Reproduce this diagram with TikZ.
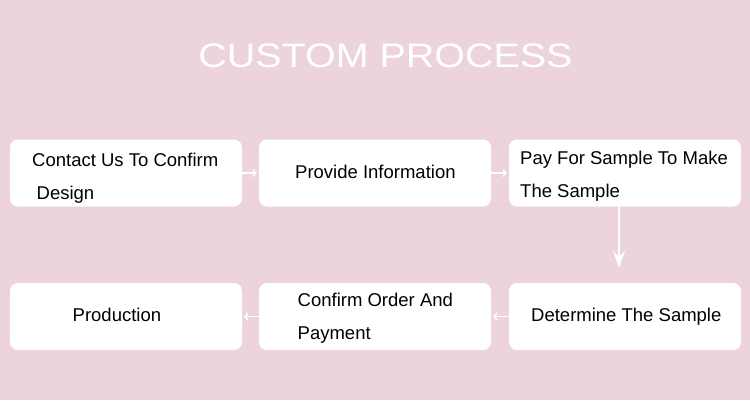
\documentclass[tikz,border=0pt]{standalone}
\usepackage{fontspec}
\setmainfont{Liberation Sans}
\definecolor{bgpink}{RGB}{236,211,221}
\usetikzlibrary{arrows.meta, positioning}

\tikzset{
  stepbox/.style={fill=white, rounded corners=8pt, minimum width=232pt, minimum height=67pt, inner sep=0pt},
  steptext/.style={anchor=base west, inner sep=0pt, font=\fontsize{18.5}{22}\selectfont},
  flow/.style={white, line width=1.5pt, -{To[length=4pt, width=8pt]}, shorten >=2pt},
  downflow/.style={white, line width=2pt, -{Stealth[length=17pt, width=12pt, inset=6pt]}, shorten >=15pt}
}

\begin{document}
\begin{tikzpicture}[x=1pt, y=-1pt]
  % Background
  \fill[bgpink] (0,0) rectangle (750,400);
  \useasboundingbox (0,0) rectangle (750,400);

  % Title
  \node[anchor=base, inner sep=0pt, text=white, font=\fontsize{34}{40}\selectfont] (title) at (385.5, 67) {\scalebox{1.16}[1]{CUSTOM PROCESS}};

  % Boxes
  \node[stepbox] (contact) at (126, 173) {};
  \node[stepbox] (info) at (375, 173) {};
  \node[stepbox] (pay) at (625, 173) {};
  \node[stepbox] (production) at (126, 316.5) {};
  \node[stepbox] (confirm) at (375, 316.5) {};
  \node[stepbox] (determine) at (625, 316.5) {};

  % Box texts
  \node[steptext] (t1a) at (32, 166.5) {Contact Us To Confirm};
  \node[steptext] (t1b) at (36.5, 199) {Design};
  \node[steptext] (t2) at (295, 178) {Provide Information};
  \node[steptext] (t3a) at (520, 164.5) {Pay For Sample To Make};
  \node[steptext] (t3b) at (520, 197.5) {The Sample};
  \node[steptext] (t4) at (531, 321.5) {Determine The Sample};
  \node[steptext] (t5a) at (297.5, 306.5) {Confirm Order And};
  \node[steptext] (t5b) at (297.5, 339) {Payment};
  \node[steptext] (t6) at (72.5, 321) {Production};

  % Arrows
  \draw[flow] (contact.east) -- (info.west);
  \draw[flow] (info.east) -- (pay.west);
  \draw[downflow] ([xshift=-6pt]pay.south) -- ([xshift=-6pt]determine.north);
  \draw[flow] (determine.west) -- (confirm.east);
  \draw[flow] (confirm.west) -- (production.east);
\end{tikzpicture}
\end{document}
